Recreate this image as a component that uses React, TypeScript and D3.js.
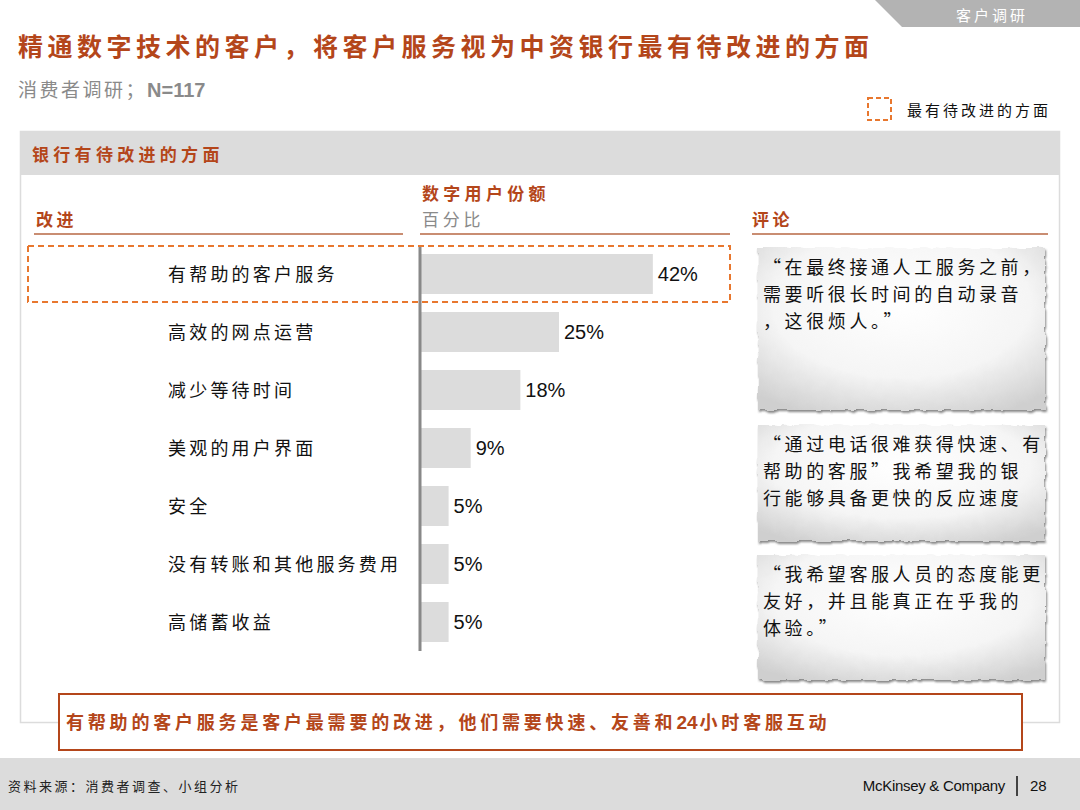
import React from "react";
import * as d3 from "d3";

const categories = [
  "有帮助的客户服务",
  "高效的网点运营",
  "减少等待时间",
  "美观的用户界面",
  "安全",
  "没有转账和其他服务费用",
  "高储蓄收益",
];
const shares = [42, 25, 18, 9, 5, 5, 5];
const highlighted = ["有帮助的客户服务"];

const comments = [
  ["“在最终接通人工服务之前，", "需要听很长时间的自动录音", "，这很烦人。”"],
  ["“通过电话很难获得快速、有", "帮助的客服”我希望我的银", "行能够具备更快的反应速度"],
  ["“我希望客服人员的态度能更", "友好，并且能真正在乎我的", "体验。”"],
];

const TITLE = "精通数字技术的客户，将客户服务视为中资银行最有待改进的方面";
const SUBTITLE_A = "消费者调研；";
const SUBTITLE_B = "N=117";
const TAB = "客户调研";
const LEGEND = "最有待改进的方面";
const PANEL = "银行有待改进的方面";
const CONCLUSION_A = "有帮助的客户服务是客户最需要的改进，他们需要快速、友善和";
const CONCLUSION_B = "24";
const CONCLUSION_C = "小时客服互动";
const SOURCE = "资料来源：消费者调查、小组分析";

const CJK = "'Noto Sans CJK SC', 'Noto Sans', sans-serif";
const LATIN = "'Liberation Sans', Arial, sans-serif";
const RUST = "#b4461a";
const ORANGE = "#e8772e";
const RULE = "#c98d72";

export default function App() {
  const y = d3.scaleBand<string>()
    .domain(categories)
    .range([245, 651])
    .paddingInner(0.31)
    .paddingOuter(0.155);
  const x = d3.scaleLinear().domain([0, 100]).range([421, 973]);

  const noteBoxes = [
    { y0: 248, y1: 410 },
    { y0: 425, y1: 541 },
    { y0: 555, y1: 680 },
  ];

  return (
    <div style={{ position: "absolute", left: 0, top: 0 }}>
      <svg width={1080} height={810} style={{ display: "block", background: "#fff" }}>
        <defs>
          <radialGradient id="paper" cx="50%" cy="35%" r="75%">
            <stop offset="0%" stopColor="#ffffff" />
            <stop offset="60%" stopColor="#f5f5f5" />
            <stop offset="100%" stopColor="#cfcfcf" />
          </radialGradient>
          <filter id="torn" x="-5%" y="-5%" width="110%" height="115%">
            <feTurbulence type="fractalNoise" baseFrequency="0.09" numOctaves="2" seed="3" result="noise" />
            <feDisplacementMap in="SourceGraphic" in2="noise" scale="5" xChannelSelector="R" yChannelSelector="G" result="rough" />
            <feGaussianBlur in="rough" stdDeviation="1.2" result="blur" />
            <feOffset in="blur" dx="1" dy="2" result="off" />
            <feFlood floodColor="#555" floodOpacity="0.7" />
            <feComposite in2="off" operator="in" result="shadow" />
            <feMerge>
              <feMergeNode in="shadow" />
              <feMergeNode in="rough" />
            </feMerge>
          </filter>
        </defs>

        {/* top right tab */}
        <path d="M875,0 L1080,0 L1080,27 L902,27 Z" fill="#b3b3b3" />
        <text x={992} y={21} textAnchor="middle" fill="#fff" fontFamily={CJK} fontSize={15} letterSpacing={3}>{TAB}</text>

        {/* title */}
        <text x={18} y={56} fill={RUST} fontFamily={CJK} fontWeight={700} fontSize={25} letterSpacing={4.5}>{TITLE}</text>
        <text x={18} y={97} fill="#8a8a8a" fontFamily={CJK} fontSize={19} letterSpacing={2.5}>
          {SUBTITLE_A}
          <tspan fontFamily={LATIN} fontWeight={700} fontSize={20} letterSpacing={0}>{SUBTITLE_B}</tspan>
        </text>

        {/* legend */}
        <rect x={868} y={98} width={23} height={22} fill="none" stroke={ORANGE} strokeWidth={2} strokeDasharray="5,3" />
        <text x={907} y={116} fill="#111" fontFamily={CJK} fontSize={15} letterSpacing={3}>{LEGEND}</text>

        {/* panel */}
        <rect x={20.5} y={131.5} width={1039} height={591} fill="#fff" stroke="#dcdcdc" strokeWidth={1.5} />
        <rect x={20} y={131} width={1040} height={44} fill="#dcdcdc" />
        <text x={32} y={161} fill={RUST} fontFamily={CJK} fontWeight={700} fontSize={17} letterSpacing={4.3}>{PANEL}</text>

        {/* column headers */}
        <text x={36} y={226} fill={RUST} fontFamily={CJK} fontWeight={700} fontSize={17} letterSpacing={3.5}>改进</text>
        <line x1={34} x2={403} y1={234} y2={234} stroke={RULE} strokeWidth={2} />
        <text x={422} y={200} fill={RUST} fontFamily={CJK} fontWeight={700} fontSize={17} letterSpacing={4.3}>数字用户份额</text>
        <text x={422} y={226} fill="#8a8a8a" fontFamily={CJK} fontSize={17} letterSpacing={3.7}>百分比</text>
        <line x1={420} x2={730} y1={234} y2={234} stroke={RULE} strokeWidth={2} />
        <text x={752} y={226} fill={RUST} fontFamily={CJK} fontWeight={700} fontSize={17} letterSpacing={3.5}>评论</text>
        <line x1={752} x2={1048} y1={234} y2={234} stroke={RULE} strokeWidth={2} />

        {/* bars */}
        {categories.map((c, i) => {
          const by = y(c)!;
          const bh = y.bandwidth();
          return (
            <g key={c}>
              <rect x={x(0)} y={by} width={x(shares[i]) - x(0)} height={bh} fill="#dcdcdc" />
              <text x={x(shares[i]) + 5} y={by + bh / 2 + 7} fill="#111" fontFamily={LATIN} fontSize={20}>{shares[i]}%</text>
              <text x={168} y={by + bh / 2 + 7} fill="#111" fontFamily={CJK} fontSize={18} letterSpacing={3.2}>{c}</text>
            </g>
          );
        })}
        <line x1={420} x2={420} y1={246} y2={651} stroke="#888" strokeWidth={3} />

        {/* highlight box */}
        {highlighted.map((c) => (
          <rect key={c} x={28} y={y(c)! - 8} width={702} height={y.bandwidth() + 16} fill="none" stroke={ORANGE} strokeWidth={2} strokeDasharray="6,4" />
        ))}

        {/* comments */}
        {noteBoxes.map((b, i) => (
          <g key={i}>
            <rect x={758} y={b.y0} width={287} height={b.y1 - b.y0} fill="url(#paper)" filter="url(#torn)" />
            {comments[i].map((line, j) => (
              <text key={j} x={763} y={b.y0 + 26 + j * 27} fill="#111" fontFamily={CJK} fontSize={18} letterSpacing={3.6}>{line}</text>
            ))}
          </g>
        ))}

        {/* conclusion */}
        <rect x={59} y={694} width={963} height={56} fill="#fff" stroke={RUST} strokeWidth={2} />
        <text x={66} y={729} fill={RUST} fontFamily={CJK} fontWeight={700} fontSize={18} letterSpacing={3.8}>
          {CONCLUSION_A}
          <tspan fontFamily={LATIN} letterSpacing={0} fontSize={19}>{CONCLUSION_B}</tspan>
          <tspan dx={2}>{CONCLUSION_C}</tspan>
        </text>

        {/* footer */}
        <rect x={0} y={758} width={1080} height={52} fill="#dcdcdc" />
        <text x={8} y={791} fill="#222" fontFamily={CJK} fontSize={13} letterSpacing={2.5}>{SOURCE}</text>
        <text x={1005} y={791} textAnchor="end" fill="#111" fontFamily={LATIN} fontSize={15} letterSpacing={-0.3}>McKinsey &amp; Company</text>
        <line x1={1017} x2={1017} y1={776} y2={796} stroke="#111" strokeWidth={1.5} />
        <text x={1030} y={791} fill="#111" fontFamily={LATIN} fontSize={15}>28</text>
      </svg>
    </div>
  );
}
